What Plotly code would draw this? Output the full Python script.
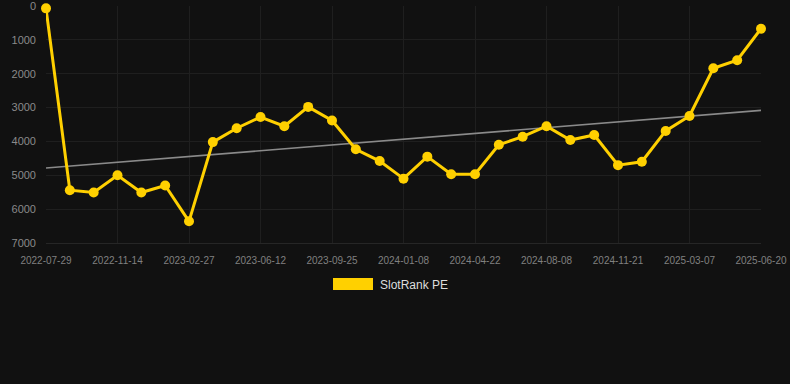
import numpy as np
import plotly.graph_objects as go

dates = [
    "2022-07-29", "2022-09-05", "2022-10-10", "2022-11-14", "2022-12-19", "2023-01-23",
    "2023-02-27", "2023-04-03", "2023-05-08", "2023-06-12", "2023-07-17", "2023-08-21",
    "2023-09-25", "2023-10-30", "2023-12-04", "2024-01-08", "2024-02-12", "2024-03-18",
    "2024-04-22", "2024-05-27", "2024-07-01", "2024-08-08", "2024-09-12", "2024-10-17",
    "2024-11-21", "2024-12-26", "2025-01-31", "2025-03-07", "2025-04-11", "2025-05-16",
    "2025-06-20",
]
ranks = [
    70, 5440, 5510, 5000, 5510, 5300, 6360, 4020, 3610, 3280, 3550, 2980,
    3380, 4230, 4580, 5100, 4450, 4970, 4970, 4100, 3860, 3550, 3960, 3810,
    4700, 4600, 3690, 3250, 1840, 1600, 670,
]
tick_labels = dates[::3]
y_ticks = [0, 1000, 2000, 3000, 4000, 5000, 6000, 7000]
series_name = "SlotRank PE"

idx = np.arange(len(ranks))
slope, intercept = np.polyfit(idx, ranks, 1)
trend = slope * idx + intercept

L, R, T, B = 46, 29, 6, 141
PW, PH = 790 - L - R, 384 - T - B

fig = go.Figure()
fig.add_trace(go.Scatter(
    x=dates, y=trend, mode="lines",
    line=dict(color="#8a8a8a", width=1.6),
    hoverinfo="skip", showlegend=False,
))
fig.add_trace(go.Scatter(
    x=dates, y=ranks, mode="lines+markers", name=series_name,
    line=dict(color="#FFD000", width=3),
    marker=dict(color="#FFD000", size=10),
    showlegend=False, cliponaxis=False,
))

fig.update_layout(
    width=790, height=384,
    margin=dict(l=L, r=R, t=T, b=B),
    paper_bgcolor="#111111", plot_bgcolor="#111111",
    font=dict(family="Liberation Sans, Arial, sans-serif", color="#888888"),
    xaxis=dict(
        type="category", tickmode="array", tickvals=tick_labels, ticktext=tick_labels,
        showgrid=True, gridcolor="#1f1f1f", gridwidth=1,
        tickfont=dict(size=10, color="#808080"),
        showline=True, linecolor="#262626", zeroline=False,
        range=[0, len(dates) - 1], ticks="", ticklen=0, automargin=False,
        ticklabelstandoff=8, ticklabeloverflow="allow",
    ),
    yaxis=dict(
        range=[7000, 0], tickvals=y_ticks, ticktext=[str(v) for v in y_ticks],
        showgrid=True, gridcolor="#1f1f1f", gridwidth=1, zeroline=False,
        tickfont=dict(size=11, color="#8a8a8a"),
        ticks="", ticklabelstandoff=9, automargin=False,
        ticklabeloverflow="allow",
    ),
    shapes=[dict(
        type="rect", xref="paper", yref="paper",
        x0=(333 - L) / PW, x1=(373 - L) / PW,
        y0=(384 - B - 290) / PH, y1=(384 - B - 278) / PH,
        fillcolor="#FFD000", line=dict(width=0),
    )],
    annotations=[dict(
        text=series_name, xref="paper", yref="paper",
        x=(378 - L) / PW, y=(384 - B - 284.5) / PH,
        xanchor="left", yanchor="middle", showarrow=False,
        font=dict(size=12, color="#dddddd"),
    )],
)

fig.write_html(
    "out.html",
    config={"displayModeBar": False},
    post_script="document.body.style.margin='0';document.body.style.background='#111111';",
)
